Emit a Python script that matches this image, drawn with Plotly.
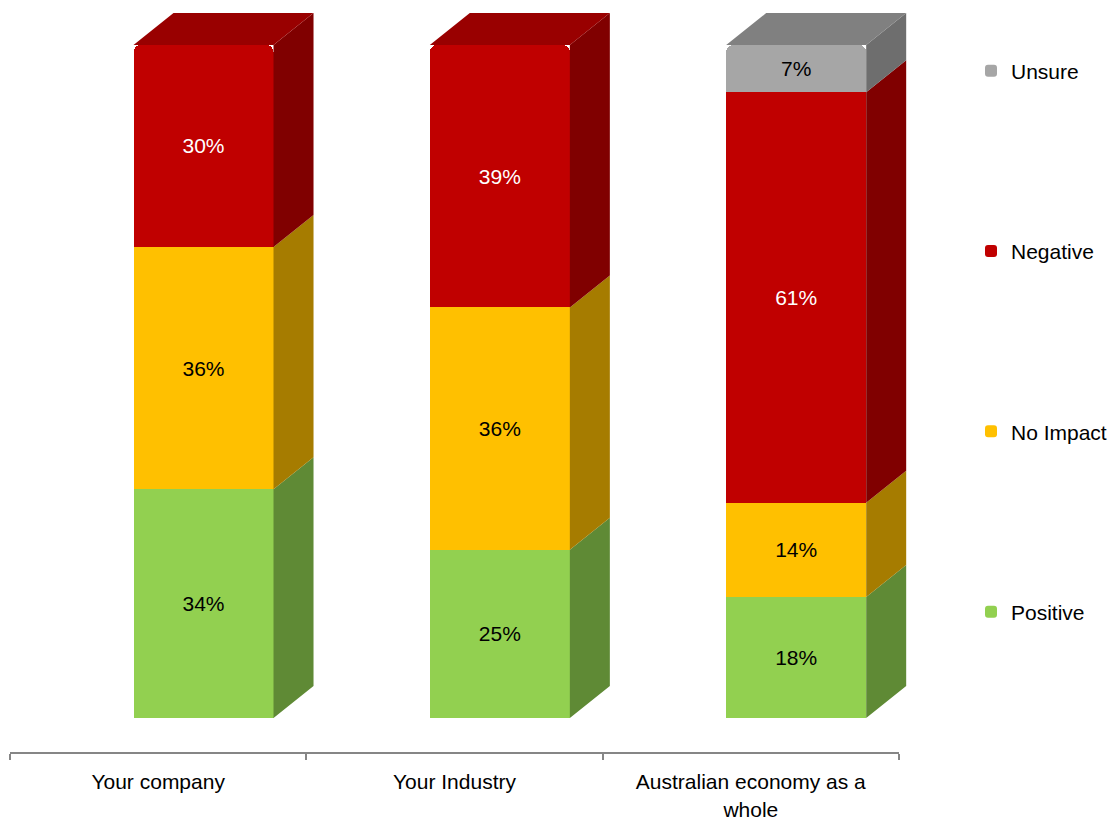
import plotly.graph_objects as go

# Survey responses (% of respondents) per scope of impact
categories = ["Your company", "Your Industry", "Australian economy as a<br>whole"]
positive = [34, 25, 18]
no_impact = [36, 36, 14]
negative = [30, 39, 61]
unsure = [None, None, 7]

series = [
    # name, values, front colour, side colour, top colour, label colour, legend rank
    ("Positive", positive, "#92D050", "#5F8A35", "#7DB043", "#000000", 4),
    ("No Impact", no_impact, "#FFC000", "#A67C00", "#D9A300", "#000000", 3),
    ("Negative", negative, "#C00000", "#800000", "#990000", "#FFFFFF", 2),
    ("Unsure", unsure, "#A6A6A6", "#6E6E6E", "#808080", "#000000", 1),
]

# geometry of the pseudo-3D columns (axis units)
BAR_SHIFT = 0.153   # front face centre offset from category centre
BAR_WIDTH = 0.4725
DEPTH_X = 0.135
DEPTH_Y = 4.75

# horizontal layout: the category axis covers part of the paper, while the
# drawing axis spans all of it with the same scale so the 3D sides are not clipped
W, H = 1113, 820
ML, MB = 10, 68
AXIS_PX = 889
plot_w = W - ML
cat_frac = AXIS_PX / plot_w

centers = [i + 0.5 for i in range(len(categories))]
xpos = [c + BAR_SHIFT for c in centers]

fig = go.Figure()

# invisible anchor trace so the category axis gets drawn
fig.add_trace(go.Scatter(
    x=centers, y=[0] * len(centers), xaxis="x", yaxis="y", mode="markers",
    marker=dict(opacity=0), showlegend=False, hoverinfo="skip",
))

font_family = "Liberation Sans, Arial, sans-serif"
base = [0.0] * len(categories)
tops = [None] * len(categories)
side_traces = []
for name, vals, front, side, top, tcol, rank in series:
    fig.add_trace(go.Bar(
        x=xpos, y=vals, width=BAR_WIDTH, name=name, legendgroup=name, legendrank=rank,
        xaxis="x2", yaxis="y",
        marker=dict(color=front, line=dict(width=0), cornerradius=7),
        text=[f"{v}%" if v else "" for v in vals],
        textposition="inside", insidetextanchor="middle", textangle=0,
        insidetextfont=dict(color=tcol, size=21, family=font_family),
        hoverinfo="skip",
    ))
    sx, sy = [], []
    for i, v in enumerate(vals):
        if not v:
            continue
        b = base[i]
        t = b + v
        xr = xpos[i] + BAR_WIDTH / 2
        sx += [xr, xr + DEPTH_X, xr + DEPTH_X, xr, xr, None]
        sy += [b, b + DEPTH_Y, t + DEPTH_Y, t, b, None]
        base[i] = t
        tops[i] = (t, top)
    side_traces.append((sx, sy, side))

for sx, sy, col in side_traces:
    fig.add_trace(go.Scatter(
        x=sx, y=sy, xaxis="x2", yaxis="y", mode="lines", fill="toself", fillcolor=col,
        line=dict(width=0, color=col), showlegend=False, hoverinfo="skip",
    ))

# top faces of each column
for i, (t, col) in enumerate(tops):
    xl = xpos[i] - BAR_WIDTH / 2
    xr = xpos[i] + BAR_WIDTH / 2
    fig.add_trace(go.Scatter(
        x=[xl, xl + DEPTH_X, xr + DEPTH_X, xr, xl],
        y=[t, t + DEPTH_Y, t + DEPTH_Y, t, t],
        xaxis="x2", yaxis="y",
        mode="lines", fill="toself", fillcolor=col,
        line=dict(width=0, color=col), showlegend=False, hoverinfo="skip",
    ))

font = dict(family=font_family, size=21, color="#000000")

fig.update_layout(
    barmode="stack",
    width=W, height=H,
    margin=dict(l=ML, r=0, t=0, b=MB),
    paper_bgcolor="white", plot_bgcolor="white",
    font=font,
    xaxis=dict(
        domain=[0, cat_frac], anchor="y", automargin=False,
        range=[0, 3], tickmode="array", tickvals=centers, ticktext=categories,
        ticks="", showgrid=False, zeroline=False, ticklabelstandoff=10,
        showline=True, linecolor="#868686", linewidth=2,
        minor=dict(tickmode="array", tickvals=[0, 1, 2, 3], ticks="outside",
                   ticklen=6, tickwidth=2, tickcolor="#868686", showgrid=False),
        tickfont=font, fixedrange=True,
    ),
    xaxis2=dict(
        domain=[0, 1], anchor="y", range=[0, 3 / cat_frac], automargin=False,
        visible=False, showgrid=False, zeroline=False, fixedrange=True,
    ),
    yaxis=dict(range=[-5.05, 106.69], visible=False, fixedrange=True, anchor="x",
               automargin=False),
    legend=dict(
        x=(971 - ML) / plot_w, xanchor="left", y=0.9327, yanchor="top",
        traceorder="grouped", tracegroupgap=150,
        font=font, bgcolor="rgba(0,0,0,0)",
    ),
    showlegend=True,
)

fig.write_html("out.html")
